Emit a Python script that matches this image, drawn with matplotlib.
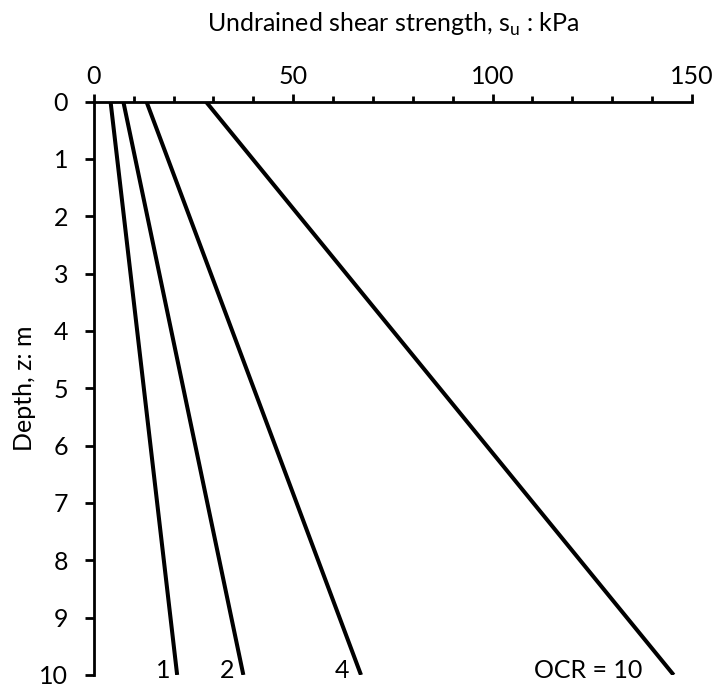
import numpy as np
import matplotlib.pyplot as plt
from matplotlib.ticker import MultipleLocator

plt.rcParams['font.family'] = ['Lato', 'DejaVu Sans']

# depth (m) and undrained shear strength (kPa) at top and bottom of the layer
depth = [0, 10]
ocr_values = [1, 2, 4, 10]
su_top = [4.2, 7.4, 13.2, 28.1]
su_bottom = [20.9, 37.5, 67.0, 145.4]
curve_labels = ['1', '2', '4', 'OCR = 10']
label_x = [17.3, 33.5, 62.3, 124.0]

fs = 18

fig = plt.figure(figsize=(7.16, 6.91), dpi=100)
ax = fig.add_axes([0.131, 0.0232, 0.8355, 0.8298])

for top, bot in zip(su_top, su_bottom):
    ax.plot([top, bot], depth, color='black', lw=2.9, solid_capstyle='butt')

for lab, lx in zip(curve_labels, label_x):
    ax.text(lx, 9.93, lab, ha='center', va='center', fontsize=fs)

ax.set_xlim(0, 150)
ax.set_ylim(10, 0)
ax.xaxis.set_major_locator(MultipleLocator(50))
ax.xaxis.set_minor_locator(MultipleLocator(10))
ax.yaxis.set_major_locator(MultipleLocator(1))
ax.xaxis.tick_top()
ax.xaxis.set_label_position('top')

for side in ['right', 'bottom']:
    ax.spines[side].set_visible(False)
for side in ['left', 'top']:
    ax.spines[side].set_linewidth(2.0)

ax.tick_params(axis='x', which='major', direction='out', length=6, width=2.0,
               labelsize=fs, pad=4)
ax.tick_params(axis='x', which='minor', direction='out', length=4, width=2.0)
ax.tick_params(axis='y', which='major', direction='out', length=6.5, width=2.0,
               labelsize=fs, pad=12)

ax.set_xlabel('Undrained shear strength, s$_\\mathregular{u}$ : kPa', fontsize=fs, labelpad=24)
ax.set_ylabel('Depth, z: m', fontsize=fs, labelpad=2)

fig.savefig('out.png', dpi=100)
